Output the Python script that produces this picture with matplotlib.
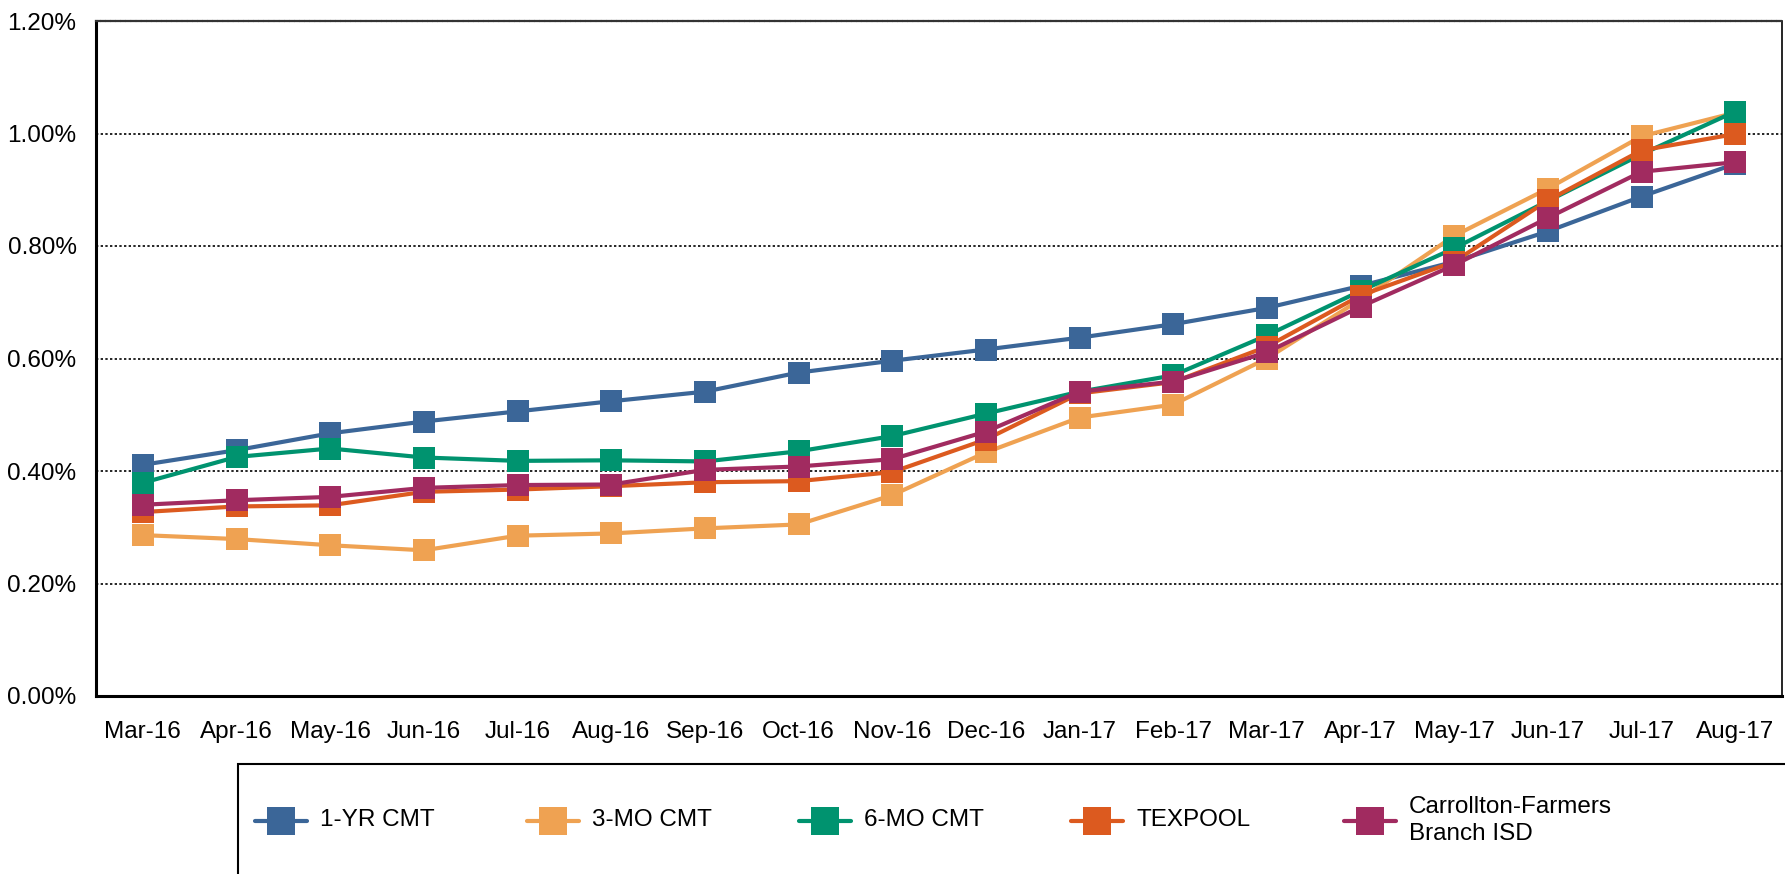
import matplotlib
matplotlib.use("Agg")
import matplotlib.pyplot as plt
from matplotlib.ticker import PercentFormatter
from matplotlib.lines import Line2D
from matplotlib.patches import Rectangle

plt.rcParams['font.family'] = ['Liberation Sans', 'DejaVu Sans']

months = ["Mar-16", "Apr-16", "May-16", "Jun-16", "Jul-16", "Aug-16", "Sep-16",
          "Oct-16", "Nov-16", "Dec-16", "Jan-17", "Feb-17", "Mar-17", "Apr-17",
          "May-17", "Jun-17", "Jul-17", "Aug-17"]

# yields in percent
yr1_cmt = [0.411, 0.437, 0.467, 0.488, 0.506, 0.524, 0.541, 0.575, 0.596,
           0.616, 0.637, 0.661, 0.690, 0.729, 0.772, 0.826, 0.888, 0.946]
mo3_cmt = [0.286, 0.279, 0.268, 0.259, 0.285, 0.289, 0.298, 0.305, 0.357,
           0.433, 0.495, 0.518, 0.600, 0.705, 0.818, 0.902, 0.995, 1.037]
mo6_cmt = [0.379, 0.425, 0.440, 0.424, 0.418, 0.419, 0.417, 0.435, 0.462,
           0.502, 0.541, 0.570, 0.641, 0.720, 0.796, 0.880, 0.963, 1.039]
texpool = [0.327, 0.337, 0.339, 0.363, 0.367, 0.373, 0.380, 0.382, 0.398,
           0.456, 0.538, 0.558, 0.621, 0.712, 0.772, 0.881, 0.970, 0.999]
cfb_isd = [0.340, 0.348, 0.354, 0.370, 0.375, 0.376, 0.402, 0.408, 0.421,
           0.470, 0.541, 0.559, 0.611, 0.692, 0.766, 0.850, 0.932, 0.949]

names = ["1-YR CMT", "3-MO CMT", "6-MO CMT", "TEXPOOL", "Carrollton-Farmers\nBranch ISD"]
colors = ["#3B6698", "#EFA252", "#00936F", "#DC5A1F", "#A12B60"]
series = [yr1_cmt, mo3_cmt, mo6_cmt, texpool, cfb_isd]

W, H = 1785, 874
fig = plt.figure(figsize=(W / 100, H / 100), dpi=100)
ax = fig.add_axes([96 / W, 1 - 696 / H, (1782 - 96) / W, (696 - 21) / H])

x = list(range(len(months)))
for vals, c in zip(series, colors):
    ax.plot(x, vals, color=c, lw=3.0, marker='s', ms=15.5, mec=c, mew=0)

ax.set_xlim(-0.5, len(months) - 0.5)
ax.set_ylim(0, 1.2)
ax.set_yticks([0, 0.2, 0.4, 0.6, 0.8, 1.0, 1.2])
ax.yaxis.set_major_formatter(PercentFormatter(xmax=100, decimals=2))
ax.set_xticks(x)
ax.set_xticklabels(months)
ax.tick_params(axis='both', length=0, labelsize=17.5)
ax.tick_params(axis='y', pad=14)
ax.tick_params(axis='x', pad=18)

ax.set_axisbelow(True)
ax.grid(axis='y', color='black', lw=1.2, linestyle=(0, (1.4, 1.4)))
ax.spines['left'].set_linewidth(2.2)
ax.spines['bottom'].set_linewidth(2.2)
ax.spines['right'].set_linewidth(1.2)
ax.spines['top'].set_linewidth(1.6)
ax.spines['top'].set_linestyle((0, (1.5, 0.8)))
ax.spines['top'].set_color('#333333')

# legend box, runs off the bottom/right edge like the original
fig.patches.append(Rectangle((238 / W, -0.2), 1.0, 0.2 + 1 - 764 / H,
                             transform=fig.transFigure, fill=False,
                             edgecolor='black', lw=1.5))
ly = 1 - 820.5 / H
for i, (name, c) in enumerate(zip(names, colors)):
    cx = 280.5 + i * 272.3
    fig.lines.append(Line2D([(cx - 26) / W, (cx + 26) / W], [ly, ly],
                            transform=fig.transFigure, color=c, lw=3.0,
                            solid_capstyle='round'))
    fig.lines.append(Line2D([cx / W], [ly], transform=fig.transFigure,
                            color=c, marker='s', ms=19.5, mew=0))
    fig.text((cx + 39) / W, ly, name, fontsize=17.5, va='center', ha='left',
             linespacing=1.25)

fig.savefig("out.png", dpi=100)
